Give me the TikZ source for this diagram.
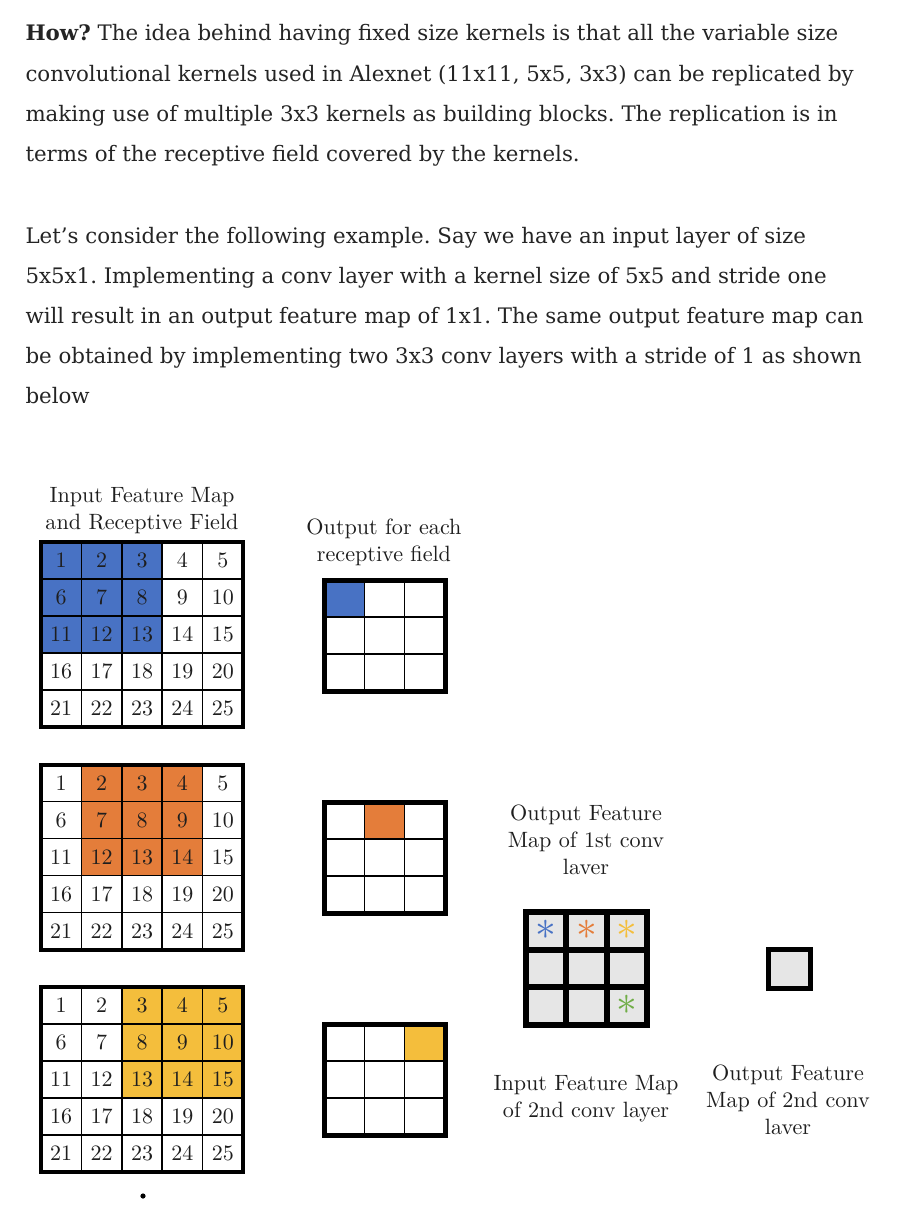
\documentclass[tikz,border=0pt]{standalone}
\usepackage{fontspec}
\newfontfamily\bodyfont{DejaVu Serif}
\newfontfamily\figfont{lmroman10-regular}[Extension=.otf]
\definecolor{inktext}{RGB}{36,36,36}
\definecolor{figtext}{RGB}{30,30,30}
\definecolor{rfblue}{RGB}{72,114,196}
\definecolor{rforange}{RGB}{228,125,58}
\definecolor{rfyellow}{RGB}{244,190,60}
\definecolor{rfgreen}{RGB}{112,173,71}
\definecolor{mapgray}{RGB}{230,230,230}
\newcommand{\bigstar}{\scalebox{1.25}{$\ast$}}
\tikzset{every picture/.style={line width=0.75pt}}
\tikzset{
  bodyline/.style={anchor=base west, inner sep=0pt, text=inktext, font=\bodyfont\fontsize{16}{18}\selectfont\frenchspacing},
  figlabel/.style={align=center, inner sep=0pt, text=figtext, font=\figfont\fontsize{16.6}{20.25}\selectfont},
  numcell/.style={draw, line width=1.2pt, minimum width=30.3pt, minimum height=27.75pt, inner sep=0pt, outer sep=0pt, text=figtext, font=\figfont\fontsize{16.5}{16.5}\selectfont},
  outcell/.style={draw, line width=1.2pt, minimum width=30.25pt, minimum height=27.75pt, inner sep=0pt, outer sep=0pt},
  mapcell/.style={draw, fill=mapgray, line width=4.5pt, minimum width=30.25pt, minimum height=28.25pt, inner sep=0pt, outer sep=0pt},
  starmark/.style={inner sep=0pt, font=\fontsize{24.88}{24.88}\selectfont},
  gridframe/.style={draw, line width=3pt},
  outframe/.style={draw, line width=3.75pt}
}

\begin{document}
\begin{tikzpicture}[x=0.75pt,y=0.75pt,yscale=-1,xscale=1]
\useasboundingbox (0,0) rectangle (907,1206);

% Text Node
\node[bodyline] (parA1) at (25,41) {\textbf{How?} The idea behind having fixed size kernels is that all the variable size};
\node[bodyline] (parA2) at (25,81) {convolutional kernels used in Alexnet (11x11, 5x5, 3x3) can be replicated by};
\node[bodyline] (parA3) at (25,121) {making use of multiple 3x3 kernels as building blocks. The replication is in};
\node[bodyline] (parA4) at (25,161) {terms of the receptive field covered by the kernels.};
% Text Node
\node[bodyline] (parB1) at (25,243) {Let’s consider the following example. Say we have an input layer of size};
\node[bodyline] (parB2) at (25,283) {5x5x1. Implementing a conv layer with a kernel size of 5x5 and stride one};
\node[bodyline] (parB3) at (25,323) {will result in an output feature map of 1x1. The same output feature map can};
\node[bodyline] (parB4) at (25,363) {be obtained by implementing two 3x3 conv layers with a stride of 1 as shown};
\node[bodyline] (parB5) at (25,403) {below};

% Text Node
\node[figlabel] (inlabel) at (142,511) {Input Feature Map\\and Receptive Field};
\node[figlabel] (rflabel) at (384,542) {Output for each\\receptive field};
\node[figlabel] (map1label) at (586,840) {Output Feature\\Map of 1st conv\\laver};
\node[figlabel] (in2label) at (586,1099) {Input Feature Map\\of 2nd conv layer};
\node[figlabel] (map2label) at (788,1100) {Output Feature\\Map of 2nd conv\\laver};

%Shape: Input grids with receptive field
\foreach \gname/\gtop/\gcol/\gcolor in {ga/542/0/rfblue, gb/764.5/1/rforange, gc/987/2/rfyellow} {
  \foreach \r in {0,...,4} {
    \foreach \c in {0,...,4} {
      \pgfmathtruncatemacro{\num}{5*\r+\c+1}
      \pgfmathtruncatemacro{\hit}{and(\r<3,and(\c>=\gcol,\c<\gcol+3))}
      \ifnum\hit=1 \def\cellfill{\gcolor}\else\def\cellfill{white}\fi
      \node[numcell, fill=\cellfill] (\gname-\r-\c) at ({61.2+40.4*\c},{\gtop+18.5+37*\r}) {\num};
    }
  }
  \draw[gridframe] (\gname-0-0.north west) rectangle (\gname-4-4.south east);
}

%Shape: Output for each receptive field
\foreach \oname/\otop/\ocol/\ocolor in {oa/580/0/rfblue, ob/802/1/rforange, oc/1024/2/rfyellow} {
  \foreach \r in {0,...,2} {
    \foreach \c in {0,...,2} {
      \pgfmathtruncatemacro{\hit}{and(\r==0,\c==\ocol)}
      \ifnum\hit=1 \def\cellfill{\ocolor}\else\def\cellfill{white}\fi
      \node[outcell, fill=\cellfill] (\oname-\r-\c) at ({344.2+40.33*\c},{\otop+18.5+37*\r}) {};
    }
  }
  \draw[outframe] (\oname-0-0.north west) rectangle (\oname-2-2.south east);
}

%Shape: Output feature map of 1st conv layer
\foreach \r in {0,...,2} {
  \foreach \c in {0,...,2} {
    \node[mapcell] (m1-\r-\c) at ({546.2+40.33*\c},{930.8+37.67*\r}) {};
  }
}
\node[starmark, text=rfblue] (starA) at ([yshift=-0.75pt]m1-0-0) {\bigstar};
\node[starmark, text=rforange] (starB) at ([yshift=-0.75pt]m1-0-1) {\bigstar};
\node[starmark, text=rfyellow] (starC) at ([yshift=-0.75pt]m1-0-2) {\bigstar};
\node[starmark, text=rfgreen] (starD) at ([yshift=-0.75pt]m1-2-2) {\bigstar};

%Shape: Output feature map of 2nd conv layer
\node[draw, fill=mapgray, line width=3.75pt, minimum width=31.5pt, minimum height=29.25pt, inner sep=0pt] (m2) at (789,968.5) {};

%Shape: Circle
\fill[black] (143,1196) circle (2.6);

\end{tikzpicture}
\end{document}
